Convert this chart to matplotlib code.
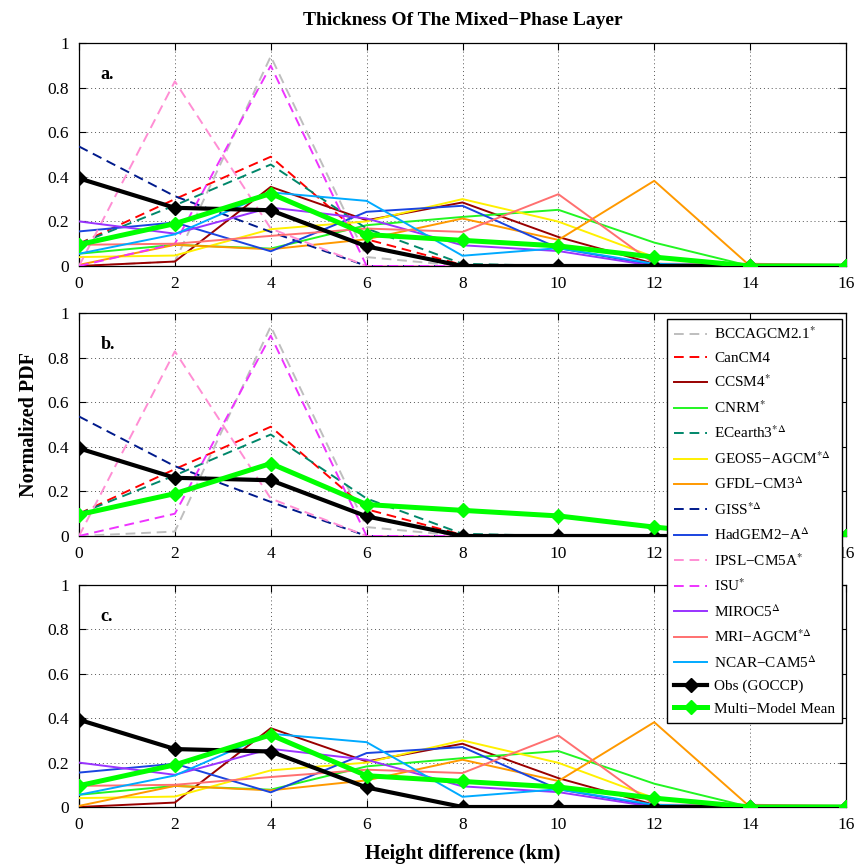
import matplotlib
matplotlib.use("Agg")
import matplotlib.pyplot as plt
import numpy as np

# height difference bins (km)
height = [0, 2, 4, 6, 8, 10, 12, 14, 16]

bcc      = [0.0, 0.02, 0.94, 0.04, 0.0, 0.0, 0.0, 0.0, 0.0]
cancm4   = [0.10, 0.30, 0.49, 0.12, 0.005, 0.0, 0.0, 0.0, 0.0]
ccsm4    = [0.0, 0.02, 0.355, 0.205, 0.285, 0.13, 0.01, 0.0, 0.0]
cnrm     = [0.055, 0.095, 0.078, 0.183, 0.22, 0.252, 0.105, 0.0, 0.0]
ecearth3 = [0.10, 0.272, 0.455, 0.168, 0.01, 0.0, 0.0, 0.0, 0.0]
geos5    = [0.04, 0.047, 0.165, 0.20, 0.30, 0.199, 0.04, 0.0, 0.0]
gfdl     = [0.005, 0.095, 0.075, 0.12, 0.213, 0.117, 0.382, 0.0, 0.0]
giss     = [0.536, 0.313, 0.153, 0.0, 0.0, 0.0, 0.0, 0.0, 0.0]
hadgem2  = [0.155, 0.195, 0.066, 0.243, 0.27, 0.08, 0.005, 0.0, 0.0]
ipsl     = [0.0, 0.828, 0.168, 0.0, 0.0, 0.0, 0.0, 0.0, 0.0]
isu      = [0.0, 0.10, 0.898, 0.0, 0.0, 0.0, 0.0, 0.0, 0.0]
miroc5   = [0.20, 0.145, 0.262, 0.213, 0.093, 0.067, 0.0, 0.0, 0.0]
mri      = [0.095, 0.10, 0.135, 0.168, 0.153, 0.322, 0.01, 0.01, 0.005]
ncar     = [0.055, 0.142, 0.33, 0.292, 0.046, 0.08, 0.01, 0.0, 0.0]
obs      = [0.393, 0.261, 0.25, 0.088, 0.0, 0.0, 0.0, 0.0, 0.0]
mmm      = [0.096, 0.19, 0.325, 0.141, 0.115, 0.09, 0.04, 0.0, 0.0]

# name, values, colour, dashed?
models = [
    ("BCCAGCM2.1$^{*}$",        bcc,      "#BEBEBE", True),
    ("CanCM4",                  cancm4,   "#FF0000", True),
    ("CCSM4$^{*}$",             ccsm4,    "#990000", False),
    ("CNRM$^{*}$",              cnrm,     "#22F522", False),
    ("ECearth3$^{*\\Delta}$",   ecearth3, "#00876A", True),
    ("GEOS5\u2212AGCM$^{*\\Delta}$", geos5, "#FFF000", False),
    ("GFDL\u2212CM3$^{\\Delta}$", gfdl,    "#FF9900", False),
    ("GISS$^{*\\Delta}$",       giss,     "#001A8C", True),
    ("HadGEM2\u2212A$^{\\Delta}$", hadgem2, "#1A44E0", False),
    ("IPSL\u2212CM5A$^{*}$",    ipsl,     "#FF8ED4", True),
    ("ISU$^{*}$",               isu,      "#EE33FF", True),
    ("MIROC5$^{\\Delta}$",      miroc5,   "#9933FF", False),
    ("MRI\u2212AGCM$^{*\\Delta}$", mri,     "#FF7070", False),
    ("NCAR\u2212CAM5$^{\\Delta}$", ncar,    "#00AAFF", False),
]

plt.rcParams['font.family'] = ['Liberation Serif', 'DejaVu Serif']
plt.rcParams['mathtext.fontset'] = 'stix'
plt.rcParams['font.size'] = 12.5

fig = plt.figure(figsize=(8.66, 8.67), dpi=100)
W, H = 866, 867
left, right = 79 / W, 846 / W
panels = [(43, 266, "a."), (313, 536, "b."), (585, 807, "c.")]

axes = []
for top, bot, letter in panels:
    ax = fig.add_axes([left, 1 - bot / H, right - left, (bot - top) / H])
    axes.append(ax)

handles = []
for i, ax in enumerate(axes):
    for name, vals, col, dashed in models:
        if i == 1 and not dashed:
            continue
        if i == 2 and dashed:
            continue
        ls = (0, (5, 3)) if dashed else '-'
        ln, = ax.plot(height, vals, color=col, lw=1.4, ls=ls, label=name, zorder=3)
        if i == 0:
            handles.append(ln)
    lo, = ax.plot(height, obs, color='black', lw=3.0, marker='D', ms=7.5,
                  label="Obs (GOCCP)", zorder=5)
    lm, = ax.plot(height, mmm, color='#00FF00', lw=3.6, marker='D', ms=7.5,
                  mec='#00FF00', label="Multi\u2212Model Mean", zorder=6)
    if i == 0:
        handles += [lo, lm]

    ax.set_xlim(0, 16)
    ax.set_ylim(0, 1)
    ax.set_xticks(np.arange(0, 17, 2))
    xl = [str(v) for v in range(0, 17, 2)]
    if i == 1:
        xl[7] = ''  # sits under the legend box
    ax.set_xticklabels(xl)
    ax.set_yticks([0, 0.2, 0.4, 0.6, 0.8, 1])
    ax.set_yticklabels(['0', '0.2', '0.4', '0.6', '0.8', '1'])
    ax.tick_params(direction='in', top=True, right=True, length=5, width=0.8,
                   labelsize=12.5, pad=7)
    ax.grid(True, color='#555555', ls=(0, (1, 3)), lw=0.7)
    for s in ax.spines.values():
        s.set_linewidth(0.9)
    ax.text(0.45, 0.86, panels[i][2], fontsize=13, fontweight='bold',
            va='center', ha='left')

axes[0].set_title("Thickness Of The Mixed\u2212Phase Layer", fontsize=14,
                  fontweight='bold', pad=13)
axes[2].set_xlabel("Height difference (km)", fontsize=14.5, fontweight='bold',
                   labelpad=8)
axes[1].set_ylabel("Normalized PDF", fontsize=14.5, fontweight='bold', labelpad=6)

leg = fig.legend(handles=handles, loc='upper left',
                 bbox_to_anchor=(667 / W, 1 - 319 / H), borderaxespad=0,
                 fontsize=11, frameon=True, fancybox=False, framealpha=1,
                 edgecolor='black', handlelength=2.2, handletextpad=0.45,
                 labelspacing=0.58, borderpad=0.45)
leg.get_frame().set_linewidth(1.0)
leg.set_zorder(10)

fig.savefig("out.png", dpi=100)
